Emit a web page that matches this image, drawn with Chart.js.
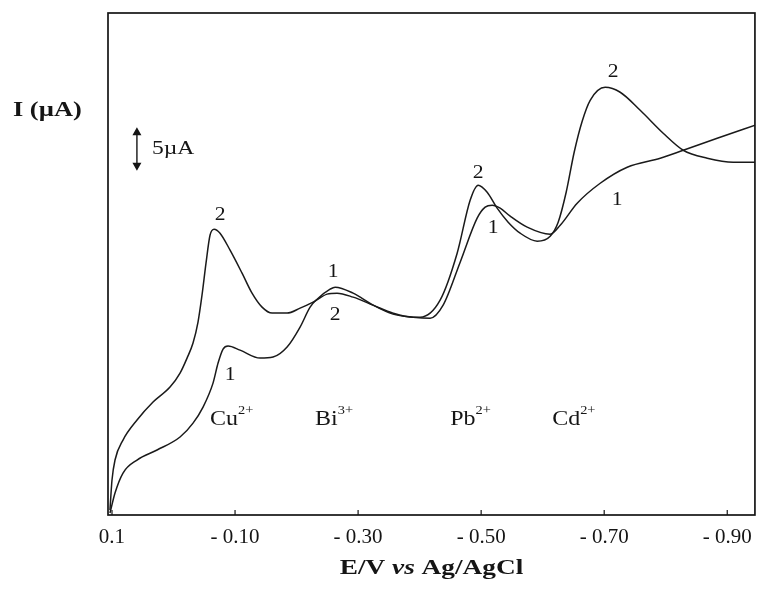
<!DOCTYPE html>
<html>
<head>
<meta charset="utf-8">
<script src="https://cdn.jsdelivr.net/npm/chart.js@4"></script>
<style>
  html, body { margin: 0; padding: 0; background: #fff; }
  #wrap { width: 762px; height: 591px; position: relative; }
</style>
</head>
<body>
<div id="wrap"><canvas id="sv"></canvas></div>
<script>
// curve 1 (E in V, I in uA)
const potential1 = [0.1033, 0.0951, 0.0821, 0.0593, 0.0268, -0.0106, -0.0317, -0.0480, -0.0642, -0.0724,
  -0.0805, -0.0886, -0.1081, -0.1407, -0.1618, -0.1846, -0.2057, -0.2220, -0.2333, -0.2545,
  -0.2626, -0.2919, -0.3244, -0.3569, -0.3894, -0.4171, -0.4382, -0.4659, -0.4935, -0.5065,
  -0.5179, -0.5309, -0.5472, -0.5748, -0.6122, -0.6285, -0.6561, -0.6935, -0.7374, -0.7911,
  -0.8285, -0.8837, -0.9455];
const current1 = [0.24, 2.62, 5.0, 6.55, 7.74, 9.29, 10.95, 12.86, 15.71, 18.10,
  19.76, 20.12, 19.64, 18.69, 18.81, 20.0, 22.38, 24.76, 25.71, 26.90,
  27.14, 26.43, 25.0, 23.93, 23.57, 23.45, 25.0, 30.12, 35.36, 36.67,
  36.90, 36.55, 35.60, 34.29, 33.45, 34.52, 37.14, 39.52, 41.43, 42.50,
  43.45, 44.88, 46.43];

// curve 2
const potential2 = [0.1033, 0.1000, 0.0951, 0.0821, 0.0593, 0.0333, 0.0057, -0.0106, -0.0220, -0.0317,
  -0.0398, -0.0463, -0.0528, -0.0593, -0.0659, -0.0756, -0.0919, -0.1114, -0.1276, -0.1439,
  -0.1602, -0.1846, -0.2057, -0.2268, -0.2496, -0.2659, -0.2919, -0.3244, -0.3569, -0.3894,
  -0.4008, -0.4333, -0.4610, -0.4821, -0.4951, -0.5098, -0.5260, -0.5439, -0.5634, -0.5911,
  -0.6122, -0.6252, -0.6382, -0.6512, -0.6642, -0.6772, -0.7016, -0.7260, -0.7585, -0.7959,
  -0.8285, -0.8675, -0.9098, -0.9455];
const current2 = [0.60, 4.17, 6.55, 8.93, 11.31, 13.45, 15.24, 16.90, 18.69, 20.48,
  22.98, 26.19, 30.0, 33.33, 34.05, 33.57, 31.55, 28.81, 26.43, 24.76,
  24.05, 24.05, 24.64, 25.36, 26.31, 26.43, 25.95, 25.0, 24.05, 23.57,
  23.57, 25.60, 31.19, 37.5, 39.29, 38.45, 36.55, 34.88, 33.57, 32.62,
  33.21, 34.88, 38.45, 43.21, 46.90, 49.40, 50.95, 50.36, 48.21, 45.48,
  43.45, 42.50, 42.02, 42.02];

const tickValues = [0.1, -0.1, -0.3, -0.5, -0.7, -0.9];
const tickLabels = ['0.1', '- 0.10', '- 0.30', '- 0.50', '- 0.70', '- 0.90'];

// curve numbers and ion labels, placed in data coordinates
const curveTags = ['2', '1', '1', '2', '2', '1', '2', '1'];
const curveTagE = [-0.0756, -0.0919, -0.2593, -0.2626, -0.4951, -0.5195, -0.7146, -0.7211];
const curveTagI = [35.7, 16.67, 28.93, 23.81, 40.71, 34.17, 52.74, 37.5];

const ions = ['Cu', 'Bi', 'Pb', 'Cd'];
const ionCharges = ['2+', '3+', '2+', '2+'];
const ionE = [-0.0593, -0.2301, -0.4496, -0.6154];
const ionI = 11.31;

const SERIF = '"Liberation Serif", "DejaVu Serif", serif';

const toPoints = (xs, ys) => xs.map((v, i) => ({ x: v, y: ys[i] }));

// the scanned figure is a bit wider than tall, so text is stretched sideways
function wideText(ctx, text, x, y, sx, align) {
  ctx.save();
  ctx.translate(x, y);
  ctx.scale(sx, 1);
  ctx.textAlign = align || 'left';
  ctx.fillText(text, 0, 0);
  const w = ctx.measureText(text).width * sx;
  ctx.restore();
  return w;
}

const decor = {
  id: 'decor',
  afterDatasetsDraw(chart) {
    const { ctx, chartArea: a, scales: { x, y } } = chart;
    ctx.save();
    ctx.strokeStyle = '#151515';
    ctx.fillStyle = '#151515';
    ctx.textBaseline = 'middle';

    // frame
    ctx.lineWidth = 1.7;
    ctx.strokeRect(a.left, a.top, a.right - a.left, a.bottom - a.top);

    // small inward ticks on the x axis
    ctx.lineWidth = 1.2;
    x.ticks.forEach(t => {
      const px = x.getPixelForValue(t.value);
      ctx.beginPath();
      ctx.moveTo(px, a.bottom);
      ctx.lineTo(px, a.bottom - 5);
      ctx.stroke();
    });

    // curve numbers
    ctx.font = '18px ' + SERIF;
    curveTags.forEach((t, i) => {
      wideText(ctx, t, x.getPixelForValue(curveTagE[i]), y.getPixelForValue(curveTagI[i]), 1.2, 'center');
    });

    // ion labels with superscript charge
    ions.forEach((name, i) => {
      const px = x.getPixelForValue(ionE[i]);
      const py = y.getPixelForValue(ionI);
      ctx.font = '20px ' + SERIF;
      const w = wideText(ctx, name, px, py, 1.2);
      ctx.font = '12px ' + SERIF;
      wideText(ctx, ionCharges[i], px + w, py - 9, 1.2);
    });

    // 5 uA scale bar
    const bx = x.getPixelForValue(0.0595);
    const b0 = y.getPixelForValue(41.0);
    const b1 = y.getPixelForValue(46.2);
    ctx.lineWidth = 1.4;
    ctx.beginPath();
    ctx.moveTo(bx, b0 - 3);
    ctx.lineTo(bx, b1 + 3);
    ctx.stroke();
    ctx.beginPath();
    ctx.moveTo(bx, b1); ctx.lineTo(bx - 4.5, b1 + 8); ctx.lineTo(bx + 4.5, b1 + 8); ctx.closePath();
    ctx.moveTo(bx, b0); ctx.lineTo(bx - 4.5, b0 - 8); ctx.lineTo(bx + 4.5, b0 - 8); ctx.closePath();
    ctx.fill();
    ctx.font = '19px ' + SERIF;
    wideText(ctx, '5\u00b5A', x.getPixelForValue(0.035), y.getPixelForValue(43.6), 1.24);

    // y title
    ctx.font = 'bold 20px ' + SERIF;
    wideText(ctx, 'I (\u00b5A)', 13, y.getPixelForValue(48.2), 1.32);

    // x title with italic "vs"
    const sx = 1.3;
    const parts = [['E/V ', 'bold 21px '], ['vs', 'italic bold 21px '], [' Ag/AgCl', 'bold 21px ']];
    let total = 0;
    parts.forEach(p => { ctx.font = p[1] + SERIF; total += ctx.measureText(p[0]).width * sx; });
    let tx = (a.left + a.right) / 2 - total / 2;
    parts.forEach(p => {
      ctx.font = p[1] + SERIF;
      tx += wideText(ctx, p[0], tx, 569, sx);
    });
    ctx.restore();
  }
};

const lineStyle = {
  borderColor: '#1a1a1a',
  borderWidth: 1.5,
  pointRadius: 0,
  fill: false,
  cubicInterpolationMode: 'monotone'
};

new Chart(document.getElementById('sv'), {
  type: 'line',
  data: {
    datasets: [
      { label: '1', data: toPoints(potential1, current1), ...lineStyle },
      { label: '2', data: toPoints(potential2, current2), ...lineStyle }
    ]
  },
  options: {
    responsive: true,
    maintainAspectRatio: false,
    animation: false,
    layout: { padding: { left: 108, right: 6, top: 13, bottom: 0 } },
    plugins: { legend: { display: false }, tooltip: { enabled: false } },
    scales: {
      x: {
        type: 'linear',
        reverse: true,
        min: -0.945,
        max: 0.1065,
        grid: { display: false, drawTicks: false },
        border: { display: false },
        afterBuildTicks: s => { s.ticks = tickValues.map(v => ({ value: v })); },
        afterFit: s => { s.height = 76; },
        ticks: {
          padding: 10,
          color: '#151515',
          font: { family: SERIF, size: 21 },
          callback: (v, i) => tickLabels[i]
        }
      },
      y: {
        display: false,
        min: 0,
        max: 59.8
      }
    }
  },
  plugins: [decor]
});
</script>
</body>
</html>
